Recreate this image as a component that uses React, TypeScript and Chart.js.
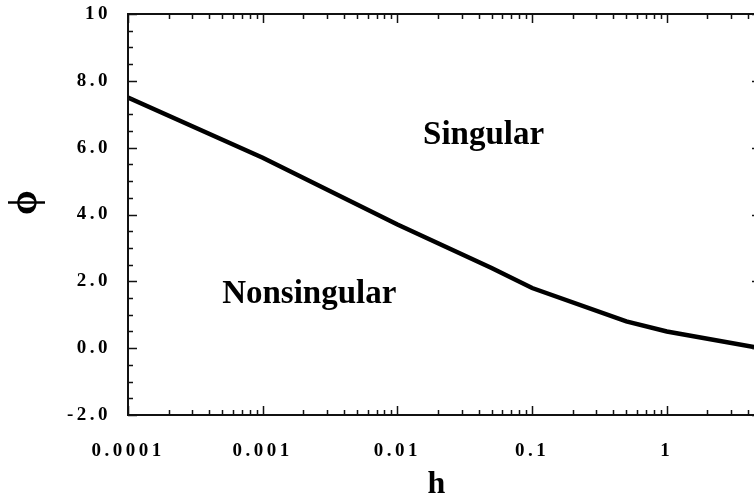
import React, { useEffect, useRef } from "react";
import { Chart, registerables } from "chart.js";

Chart.register(...registerables);

const hValues = [0.0001, 0.001, 0.01, 0.05, 0.1, 0.5, 1, 5];
const phiValues = [7.5, 5.7, 3.7, 2.4, 1.8, 0.8, 0.5, 0.0];
const xTickValues = [0.0001, 0.001, 0.01, 0.1, 1];
const xTickLabels = ["0.0001", "0.001", "0.01", "0.1", "1"];
const yTickValues = [-2, 0, 2, 4, 6, 8, 10];
const yTickLabels = ["-2.0", "0.0", "2.0", "4.0", "6.0", "8.0", "10"];
const xTitle = "h";
const yTitle = "ϕ";
const regionLabels = ["Singular", "Nonsingular"];
const regionX = [0.0155, 0.0005];
const regionY = [6.1, 1.35];

const SERIF = "'Liberation Serif', 'Times New Roman', serif";

const framePlugin = {
  id: "frame",
  beforeDraw(chart: any) {
    chart.ctx.letterSpacing = "3.5px";
  },
  afterDraw(chart: any) {
    const ctx = chart.ctx;
    ctx.letterSpacing = "0px";
    const { left, right, top, bottom } = chart.chartArea;
    const xs = chart.scales.x;
    const ys = chart.scales.y;
    ctx.save();
    ctx.strokeStyle = "#111";
    ctx.lineWidth = 2;
    ctx.strokeRect(left, top, right - left, bottom - top);
    ctx.lineWidth = 1.5;
    ctx.beginPath();
    for (let v = ys.min; v <= ys.max + 1e-9; v += 0.5) {
      const y = Math.round(ys.getPixelForValue(v)) + 0.5;
      const major = Math.abs(v / 2 - Math.round(v / 2)) < 1e-6;
      const len = major ? 9 : 5;
      ctx.moveTo(left, y);
      ctx.lineTo(left + len, y);
      ctx.moveTo(right, y);
      ctx.lineTo(right - len, y);
    }
    for (let e = -4; e <= 0; e++) {
      for (let m = 1; m <= 9; m++) {
        const v = m * Math.pow(10, e);
        if (v > xs.max) break;
        const x = Math.round(xs.getPixelForValue(v)) + 0.5;
        const len = m === 1 ? 9 : 5;
        ctx.moveTo(x, bottom);
        ctx.lineTo(x, bottom - len);
        ctx.moveTo(x, top);
        ctx.lineTo(x, top + len);
      }
    }
    ctx.stroke();

    ctx.fillStyle = "#000";
    ctx.font = `bold 33px ${SERIF}`;
    ctx.textAlign = "left";
    ctx.textBaseline = "alphabetic";
    for (let i = 0; i < regionLabels.length; i++) {
      ctx.fillText(
        regionLabels[i],
        xs.getPixelForValue(regionX[i]),
        ys.getPixelForValue(regionY[i])
      );
    }

    ctx.font = `bold 32px ${SERIF}`;
    ctx.textAlign = "center";
    ctx.fillText(xTitle, (left + right) / 2 - 8, 493);

    ctx.save();
    ctx.translate(26, (top + bottom) / 2 - 12);
    ctx.rotate(-Math.PI / 2);
    ctx.font = `bold 40px ${SERIF}`;
    ctx.textAlign = "center";
    ctx.textBaseline = "middle";
    ctx.fillText(yTitle, 0, 0);
    ctx.restore();

    ctx.restore();
  },
};

export default function App() {
  const ref = useRef<HTMLCanvasElement | null>(null);

  useEffect(() => {
    if (!ref.current) return;
    const chart = new Chart(ref.current, {
      type: "line",
      data: {
        datasets: [
          {
            data: hValues.map((h, i) => ({ x: h, y: phiValues[i] })),
            borderColor: "#000",
            borderWidth: 4.5,
            pointRadius: 0,
            tension: 0,
            fill: false,
          },
        ],
      },
      options: {
        animation: false,
        responsive: false,
        devicePixelRatio: 1,
        layout: { padding: { top: 14, right: 19, bottom: 0, left: 0 } },
        plugins: { legend: { display: false }, tooltip: { enabled: false } },
        scales: {
          x: {
            type: "logarithmic",
            min: 0.0001,
            max: 5,
            grid: { display: false, drawTicks: false },
            border: { display: false },
            afterBuildTicks: (scale: any) => {
              scale.ticks = xTickValues.map((v) => ({ value: v }));
            },
            afterFit: (scale: any) => {
              scale.height = 81;
              scale.paddingLeft = 0;
              scale.paddingRight = 0;
            },
            ticks: {
              autoSkip: false,
              maxRotation: 0,
              padding: 25,
              color: "#000",
              font: { family: SERIF, size: 19, weight: "bold" },
              callback: (value: any) => {
                const i = xTickValues.findIndex(
                  (v) => Math.abs(v - Number(value)) / v < 1e-6
                );
                return i >= 0 ? xTickLabels[i] : "";
              },
            },
          },
          y: {
            type: "linear",
            min: -2,
            max: 10,
            grid: { display: false, drawTicks: false },
            border: { display: false },
            afterBuildTicks: (scale: any) => {
              scale.ticks = yTickValues.map((v) => ({ value: v }));
            },
            afterFit: (scale: any) => {
              scale.width = 128;
              scale.paddingTop = 0;
              scale.paddingBottom = 0;
            },
            ticks: {
              autoSkip: false,
              padding: 17,
              color: "#000",
              font: { family: SERIF, size: 19, weight: "bold" },
              callback: (value: any) => {
                const i = yTickValues.indexOf(Number(value));
                return i >= 0 ? yTickLabels[i] : "";
              },
            },
          },
        },
      },
      plugins: [framePlugin],
    });
    return () => chart.destroy();
  }, []);

  return (
    <div
      style={{
        position: "fixed",
        left: 0,
        top: 0,
        width: 754,
        height: 496,
        overflow: "hidden",
        background: "#fff",
      }}
    >
      <canvas
        ref={ref}
        width={780}
        height={496}
        style={{ display: "block", width: 780, height: 496 }}
      />
    </div>
  );
}
